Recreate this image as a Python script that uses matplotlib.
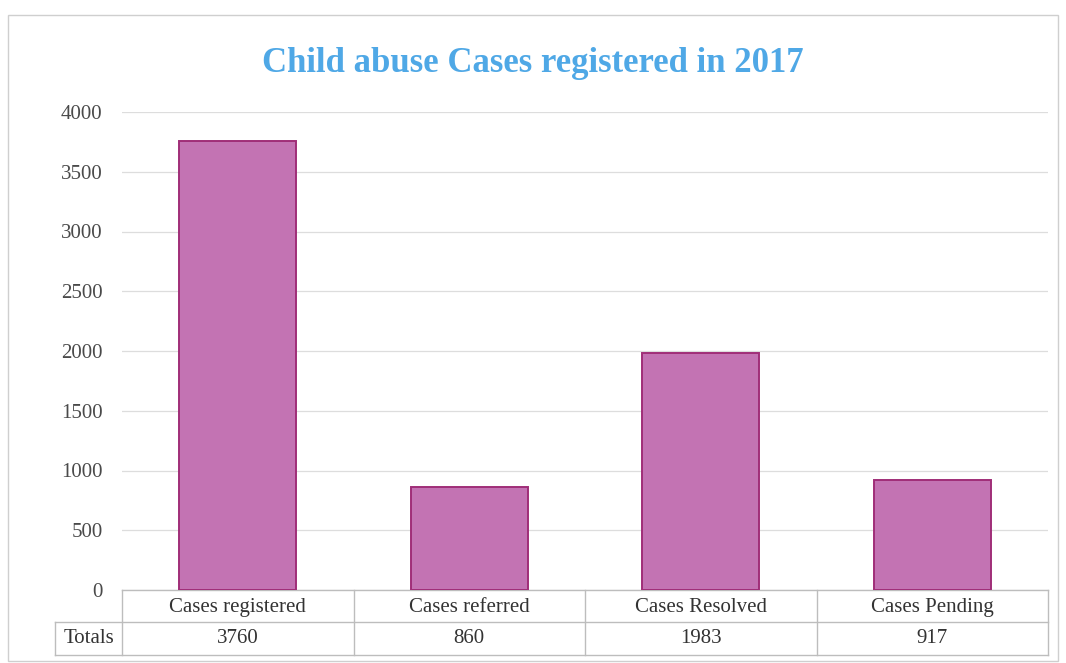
import matplotlib
matplotlib.use("Agg")
import matplotlib.pyplot as plt
from matplotlib.patches import Rectangle

categories = ["Cases registered", "Cases referred", "Cases Resolved", "Cases Pending"]
totals = [3760, 860, 1983, 917]
yticks = [0, 500, 1000, 1500, 2000, 2500, 3000, 3500, 4000]
row_label = "Totals"
title = "Child abuse Cases registered in 2017"

W, H = 1066, 663
fig = plt.figure(figsize=(W / 100, H / 100), dpi=100)
fig.patch.set_facecolor("white")

serif = ["Liberation Serif", "DejaVu Serif"]

# outer frame
fig.patches.append(Rectangle((8 / W, 2 / H), 1050 / W, 646 / H, transform=fig.transFigure,
                             fill=False, edgecolor="#CFCFCF", linewidth=1.0))

left, right, top, bottom = 122, 1048, 112, 590
ax = fig.add_axes([left / W, 1 - bottom / H, (right - left) / W, (bottom - top) / H])
ax.set_xlim(-0.5, len(categories) - 0.5)
ax.set_ylim(0, 4000)

ax.bar(range(len(categories)), totals, width=0.505, color="#C373B3",
       edgecolor="#A02E78", linewidth=1.4, zorder=3)

ax.set_yticks(yticks)
ax.set_yticklabels([str(v) for v in yticks], fontfamily=serif, fontsize=15, color="#4A4A4A")
ax.tick_params(axis="y", length=0, pad=14)
ax.set_xticks([])
ax.grid(axis="y", color="#DDDDDD", linewidth=0.9, zorder=0)
for s in ax.spines.values():
    s.set_visible(False)

fig.text(0.5, 1 - 63 / H, title, ha="center", va="center", fontfamily=serif,
         fontsize=25, fontweight="bold", color="#4FA8E6")

# data table below axes
axh = bottom - top
r1 = -32 / axh
r2 = -65 / axh
lbl_left = (55 - left) / (right - left)
lc = "#BDBDBD"
kw = dict(transform=ax.transAxes, clip_on=False, color=lc, linewidth=1.0)
ax.plot([0, 1], [0, 0], **kw)
ax.plot([lbl_left, 1], [r1, r1], **kw)
ax.plot([lbl_left, 1], [r2, r2], **kw)
ax.plot([lbl_left, lbl_left], [r1, r2], **kw)
n = len(categories)
for i in range(n + 1):
    ax.plot([i / n, i / n], [0, r2], **kw)
for i, (c, v) in enumerate(zip(categories, totals)):
    x = (i + 0.5) / n
    ax.text(x, r1 * 0.55, c, transform=ax.transAxes, ha="center", va="center",
            fontfamily=serif, fontsize=15, color="#333333")
    ax.text(x, (r1 + r2) / 2, str(v), transform=ax.transAxes, ha="center", va="center",
            fontfamily=serif, fontsize=15, color="#333333")
ax.text(lbl_left / 2, (r1 + r2) / 2, row_label, transform=ax.transAxes, ha="center",
        va="center", fontfamily=serif, fontsize=15, color="#333333")

fig.savefig("out.png", dpi=100, facecolor="white")
